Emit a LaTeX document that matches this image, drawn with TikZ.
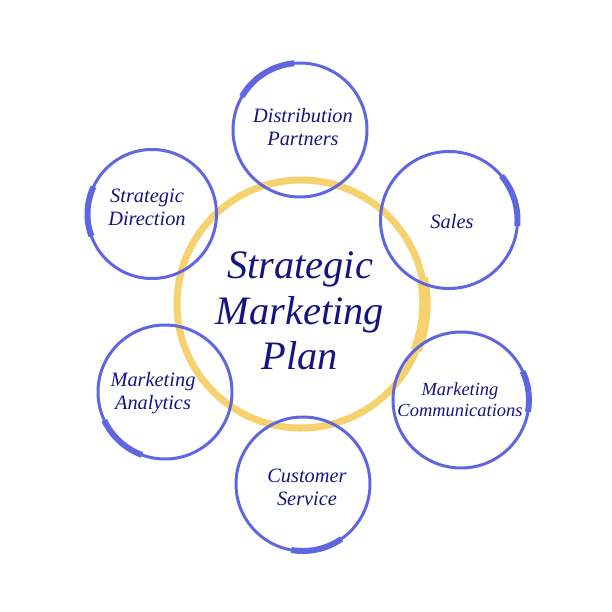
\documentclass[tikz,border=0pt]{standalone}
\usepackage{fontspec}
\setmainfont{Liberation Serif}
\usepackage{tikz}
\usetikzlibrary{positioning, calc}
\definecolor{ringblue}{RGB}{96,102,224}
\definecolor{ringyellow}{RGB}{245,210,110}
\definecolor{textblue}{RGB}{20,20,128}

\begin{document}
\begin{tikzpicture}[x=0.02cm,y=-0.02cm]

	\def \u{0.02cm}
	\tikzstyle{ring}=[circle,draw=ringblue,line width=1.7pt,inner sep=0pt,minimum size=134*\u]
	\tikzstyle{brush}=[draw=ringblue,line width=3.4pt]
	\tikzstyle{lbl}=[text=textblue,align=center,font=\itshape\fontsize{11.6}{13.2}\selectfont]
	\useasboundingbox (0,0) rectangle (612,612);

	% centre ring
	\node[circle,draw=ringyellow,line width=4pt,inner sep=0pt,minimum size=248*\u] (planring) at (301,304) {};
	\draw[draw=ringyellow,line width=6.5pt] (planring.center) ++(12:124*\u) arc[start angle=12,end angle=-22,radius=124*\u];
	\node[text=textblue,align=center,font=\itshape\fontsize{23}{26}\selectfont] (plan) at (300,311) {Strategic\\Marketing\\Plan};

	% outer rings
	\node[ring] (distring)  at (300,130) {};
	\node[ring,minimum size=137*\u] (salesring) at (449,220) {};
	\node[ring,minimum size=136*\u] (commring)  at (461,400) {};
	\node[ring] (servring)  at (303,484) {};
	\node[ring] (anaring)   at (165,392) {};
	\node[ring,minimum size=129*\u] (dirring)   at (152,214) {};

	% brush strokes
	\draw[brush] (distring.center) ++(95:67*\u) arc[start angle=95,end angle=150,radius=67*\u];
	\draw[brush] (salesring.center) ++(40:68.5*\u) arc[start angle=40,end angle=-5,radius=68.5*\u];
	\draw[brush] (commring.center) ++(25:68*\u) arc[start angle=25,end angle=-10,radius=68*\u];
	\draw[brush] (servring.center) ++(-55:67*\u) arc[start angle=-55,end angle=-100,radius=67*\u];
	\draw[brush] (anaring.center) ++(205:67*\u) arc[start angle=205,end angle=250,radius=67*\u];
	\draw[brush] (dirring.center) ++(155:64.5*\u) arc[start angle=155,end angle=200,radius=64.5*\u];

	% labels
	\node[lbl] (dist) at (303,127) {Distribution\\Partners};
	\node[lbl] (sales) at (452,222) {Sales};
	\node[lbl,font=\itshape\fontsize{10.5}{12}\selectfont] (comm) at (460,400) {Marketing\\Communications};
	\node[lbl] (serv) at (307,487) {Customer\\Service};
	\node[lbl] (ana) at (153,393) {Marketing\\Analytics};
	\node[lbl] (dir) at (147,207) {Strategic\\Direction};
\end{tikzpicture}
\end{document}
